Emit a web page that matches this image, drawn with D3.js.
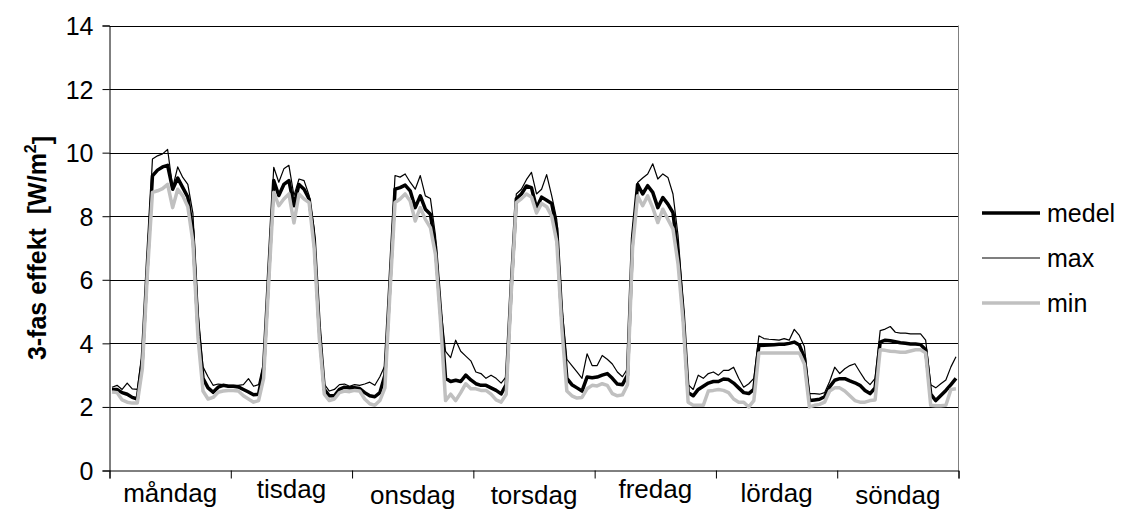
<!DOCTYPE html>
<html lang="sv">
  <head>
    <meta charset="utf-8">
    <title>3-fas effekt</title>
    <script src="https://d3js.org/d3.v7.min.js"></script>
    <style>
      body { margin: 0; background: #fff; }
      text { font-family: "Liberation Sans", Arial, sans-serif; fill: #000; }
    </style>
  </head>

  <body>

  <script>

// data: hourly values, 24 per day, monday -> sunday

  var days = ["måndag", "tisdag", "onsdag", "torsdag", "fredag", "lördag", "söndag"];
  var yTicks = [0, 2, 4, 6, 8, 10, 12, 14];

  var medel = [
    2.55,2.55,2.45,2.4,2.3,2.25,3.5,6.5,9.27,9.45,9.55,9.6,8.85,9.2,8.9,8.6,7.5,4.5,2.9,2.6,2.46,2.62,2.68,2.65,
    2.65,2.63,2.55,2.47,2.38,2.4,3.2,6.2,9.12,8.65,9.0,9.12,8.33,9.0,8.85,8.54,7.3,4.5,2.55,2.35,2.35,2.55,2.62,2.6,
    2.6,2.58,2.45,2.35,2.32,2.45,3.0,5.9,8.85,8.9,8.98,8.8,8.27,8.64,8.22,8.06,7.05,5.0,2.9,2.8,2.84,2.8,3.0,2.85,
    2.73,2.68,2.68,2.6,2.52,2.41,2.7,5.8,8.55,8.7,8.95,8.9,8.25,8.6,8.5,8.4,7.6,4.8,2.9,2.7,2.6,2.5,2.94,2.92,
    2.94,3.0,3.05,2.9,2.72,2.7,3.0,7.3,9.0,8.7,8.96,8.75,8.27,8.59,8.38,8.11,6.8,5.0,2.45,2.35,2.55,2.65,2.75,2.8,
    2.8,2.88,2.86,2.75,2.6,2.45,2.42,2.55,3.93,3.94,3.95,3.96,3.97,3.97,4.0,4.04,3.95,3.55,2.2,2.22,2.24,2.32,2.63,2.84,
    2.89,2.89,2.82,2.76,2.68,2.52,2.42,2.6,4.04,4.1,4.08,4.05,4.02,4.0,3.98,3.98,3.96,3.8,2.4,2.2,2.36,2.52,2.7,2.9
  ];

  var maxv = [
    2.62,2.68,2.55,2.75,2.57,2.55,3.7,6.8,9.8,9.9,9.96,10.1,8.9,9.55,9.22,9.0,8.1,5.0,3.26,2.95,2.68,2.72,2.7,2.68,
    2.68,2.68,2.7,2.89,2.65,2.7,3.4,6.5,9.54,9.07,9.49,9.6,8.65,9.17,9.12,8.65,7.6,4.8,2.72,2.5,2.55,2.7,2.72,2.65,
    2.7,2.68,2.72,2.78,2.68,2.95,3.3,6.2,9.28,9.23,9.33,9.07,8.85,9.28,8.64,8.56,7.4,5.2,3.75,3.55,4.1,3.75,3.6,3.45,
    3.1,3.05,2.9,3.0,2.9,2.75,2.95,6.0,8.7,8.85,9.15,9.38,8.7,8.85,9.31,8.65,7.9,5.2,3.5,3.3,3.1,2.9,3.67,3.3,
    3.3,3.62,3.5,3.35,3.1,2.95,3.2,7.5,9.06,9.2,9.33,9.65,9.17,9.33,9.22,8.7,7.4,5.3,2.7,2.55,3.0,2.9,3.05,3.1,
    3.0,3.15,3.15,3.25,2.9,2.62,2.73,2.9,4.24,4.15,4.13,4.12,4.1,4.15,4.1,4.44,4.25,3.9,2.42,2.42,2.4,2.45,2.8,3.25,
    3.05,3.2,3.3,3.36,3.1,2.85,2.7,2.9,4.4,4.45,4.53,4.35,4.32,4.32,4.3,4.3,4.3,4.1,2.7,2.6,2.73,2.85,3.26,3.58
  ];

  var minv = [
    2.47,2.45,2.22,2.15,2.12,2.12,3.2,6.2,8.75,8.8,8.87,9.0,8.27,8.85,8.64,8.3,7.2,4.2,2.5,2.25,2.3,2.46,2.5,2.52,
    2.52,2.5,2.35,2.25,2.15,2.2,2.9,5.9,8.75,8.33,8.54,8.7,7.79,8.7,8.54,8.43,7.0,4.2,2.4,2.2,2.25,2.45,2.5,2.48,
    2.52,2.5,2.25,2.1,2.05,2.2,2.6,5.6,8.43,8.54,8.7,8.48,7.85,8.27,7.9,7.64,6.8,4.7,2.2,2.4,2.2,2.45,2.73,2.57,
    2.57,2.52,2.52,2.4,2.22,2.15,2.4,5.6,8.43,8.55,8.7,8.6,8.1,8.4,8.3,8.0,7.2,4.5,2.5,2.35,2.28,2.3,2.57,2.68,
    2.66,2.73,2.68,2.42,2.35,2.38,2.7,7.0,8.64,8.33,8.64,8.27,7.8,8.22,7.9,7.6,6.5,4.7,2.15,2.05,2.05,2.05,2.5,2.52,
    2.55,2.52,2.45,2.25,2.15,2.15,2.0,2.2,3.7,3.7,3.7,3.7,3.7,3.7,3.7,3.7,3.7,3.35,2.0,2.05,2.08,2.15,2.5,2.6,
    2.6,2.5,2.35,2.2,2.15,2.15,2.2,2.22,3.8,3.78,3.75,3.74,3.72,3.72,3.76,3.8,3.8,3.7,2.05,2.04,2.04,2.05,2.55,2.57
  ];

// svg + scales

  var w = 1125;
  var h = 510;
  var plotL = 109.5, plotR = 958.5, plotT = 25.5, plotB = 470.5;

  var svg = d3.select("body")
    .append("svg")
      .attr("width", w)
      .attr("height", h);

  var nHours = medel.length;

  var x = d3.scaleLinear()
    .domain([0, nHours])
    .range([plotL, plotR]);

  var y = d3.scaleLinear()
    .domain([0, 14])
    .range([plotB, plotT]);

  // gridlines
  svg.append("g")
    .selectAll("line")
    .data(yTicks.filter(d => d > 0))
    .enter().append("line")
      .attr("x1", plotL)
      .attr("x2", plotR)
      .attr("y1", d => Math.round(y(d)) + 0.5)
      .attr("y2", d => Math.round(y(d)) + 0.5)
      .attr("stroke", "#000")
      .attr("stroke-width", 1);

  // right border of plot area
  svg.append("line")
    .attr("x1", plotR).attr("x2", plotR)
    .attr("y1", plotT).attr("y2", plotB)
    .attr("stroke", "#808080");

  // y axis
  var yAxis = d3.axisLeft(y)
    .tickValues(yTicks)
    .tickSize(7)
    .tickPadding(9)
    .tickFormat(d3.format("d"));

  var gy = svg.append("g")
    .attr("transform", "translate(" + plotL + ",0)")
    .call(yAxis);
  gy.select(".domain").attr("stroke", "#000");
  gy.selectAll(".tick line").attr("stroke", "#000");
  gy.selectAll("text")
    .style("font-size", "25px")
    .attr("dy", "0.36em");

  // x axis: ticks at day boundaries
  var xAxis = d3.axisBottom(x)
    .tickValues(d3.range(0, nHours + 1, 24))
    .tickSize(8)
    .tickFormat("");

  var gx = svg.append("g")
    .attr("transform", "translate(0," + plotB + ")")
    .call(xAxis);
  gx.select(".domain").attr("stroke", "#000");
  gx.selectAll(".tick line").attr("stroke", "#000");

  var shift = [0, -4, 2, 2, -4, 0, 2];

  svg.append("g")
    .selectAll("text")
    .data(days)
    .enter().append("text")
      .attr("x", (d, i) => x(i * 24 + 12))
      .attr("y", (d, i) => 502 + shift[i])
      .attr("text-anchor", "middle")
      .style("font-size", "26px")
      .text(d => d);

  // y title
  var title = svg.append("text")
    .attr("transform", "translate(46," + ((plotT + plotB) / 2) + ") rotate(-90)")
    .attr("text-anchor", "middle")
    .style("font-size", "25px")
    .style("font-weight", "bold");
  title.append("tspan").text("3-fas effekt\u00a0\u00a0[W/m");
  title.append("tspan").attr("dy", "-0.6em").style("font-size", "16px").text("2");
  title.append("tspan").attr("dy", "0.6em").text("]");

// lines

  var series = [
    {name: "medel", values: medel, color: "#000", width: 3.5},
    {name: "max",   values: maxv,  color: "#000", width: 1.2},
    {name: "min",   values: minv,  color: "#c0c0c0", width: 3.5}
  ];

  var line = d3.line()
    .x((d, i) => x(i + 0.5))
    .y(d => y(d));

  svg.append("g")
    .selectAll("path")
    .data(series)
    .enter().append("path")
      .attr("d", d => line(d.values))
      .attr("fill", "none")
      .attr("stroke", d => d.color)
      .attr("stroke-width", d => d.width)
      .attr("stroke-linejoin", "round");

// legend

  var legend = svg.append("g")
    .selectAll("g")
    .data(series)
    .enter().append("g")
      .attr("transform", (d, i) => "translate(982," + (213 + i * 45) + ")");

  legend.append("line")
    .attr("x1", 0).attr("x2", 58)
    .attr("stroke", d => d.color)
    .attr("stroke-width", d => d.width);

  legend.append("text")
    .attr("x", 65)
    .attr("dy", "0.36em")
    .style("font-size", "25px")
    .text(d => d.name);

  </script>

  </body>

</html>
